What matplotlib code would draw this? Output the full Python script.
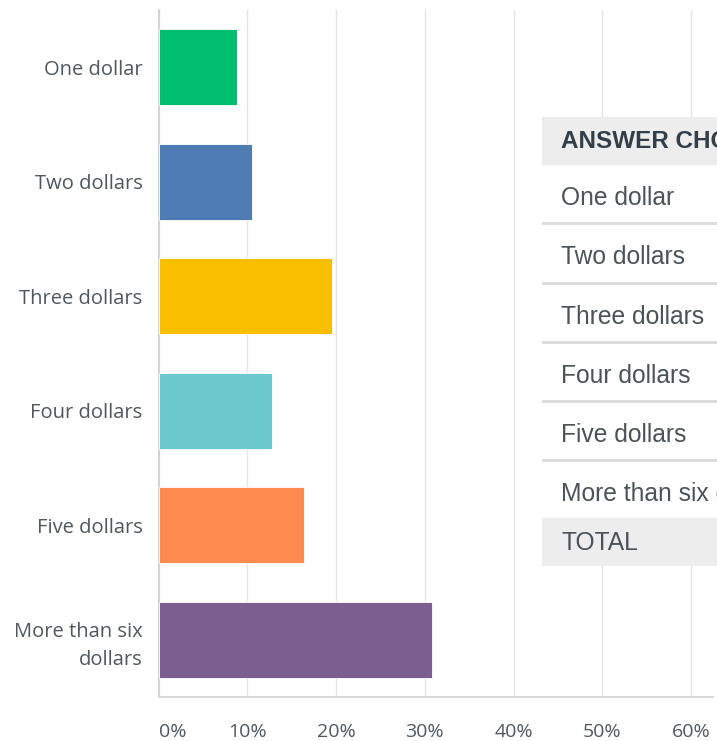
import matplotlib.pyplot as plt
from matplotlib.patches import Rectangle

categories = ['One dollar', 'Two dollars', 'Three dollars', 'Four dollars',
              'Five dollars', 'More than six\ndollars']
percent = [8.8, 10.5, 19.5, 12.8, 16.4, 30.8]
colors = ['#00bf6f', '#507cb6', '#f9be00', '#6bc8cd', '#ff8b4f', '#7d5e90']
xticks = [0, 10, 20, 30, 40, 50, 60]

table_rows = ['One dollar', 'Two dollars', 'Three dollars', 'Four dollars',
              'Five dollars', 'More than six dollars']

W, H = 717, 741
fig = plt.figure(figsize=(W / 100, H / 100), dpi=100)

# main bar axes, placed in pixel units
ax = fig.add_axes([158.5 / W, (H - 697) / H, (713 - 158.5) / W, (697 - 10) / H])
y = list(range(len(categories)))
ax.barh(y, percent, height=0.665, color=colors, edgecolor='white', linewidth=0.6, zorder=3)
ax.set_ylim(len(categories) - 0.5, -0.5)
ax.set_xlim(0, 62.45)
ax.set_yticks(y)
ax.set_yticklabels(categories, family='Open Sans', fontsize=14.5, color='#50575e',
                   linespacing=1.5)
ax.set_xticks(xticks)
ax.set_xticklabels([f'{t}%' for t in xticks], family='Open Sans', fontsize=14, color='#50575e')
ax.get_xticklabels()[0].set_horizontalalignment('left')
ax.tick_params(axis='y', length=0, pad=11.5)
ax.tick_params(axis='x', length=0, pad=19)
ax.grid(axis='x', color='#e4e5e6', linewidth=1, zorder=0)
for s in ['top', 'right']:
    ax.spines[s].set_visible(False)
ax.spines['left'].set_color('#cfd2d4')
ax.spines['bottom'].set_color('#d4d6d8')
ax.spines['left'].set_linewidth(1.3)
ax.spines['bottom'].set_linewidth(1.3)

# the answer table sits on top of the chart and runs off the right edge
tx0, ty0, ty1 = 542, 117, 566
tab = fig.add_axes([tx0 / W, (H - ty1) / H, (W - tx0) / W, (ty1 - ty0) / H])
tab.set_xlim(tx0, W)
tab.set_ylim(ty1, ty0)
tab.axis('off')
tab.add_patch(Rectangle((tx0, ty0), W - tx0, ty1 - ty0, color='white', zorder=0))
tab.add_patch(Rectangle((tx0, 117), W - tx0, 47, color='#ecedec', zorder=1))
tab.add_patch(Rectangle((tx0, 518), W - tx0, 48, color='#ecedec', zorder=1))
for yy in [223, 283, 342, 401, 460]:
    tab.plot([tx0, W], [yy, yy], color='#d9dadb', linewidth=2, zorder=2)

tab.text(561, 142, 'ANSWER CHOICES', family='Liberation Sans', fontsize=17.5,
         fontweight='bold', color='#333e48', va='center', clip_on=True)
row_y = [198, 257, 317, 376, 435, 494]
for label, yy in zip(table_rows, row_y):
    tab.text(561, yy, label, family='Liberation Sans', fontsize=17.7, color='#4b5259',
             va='center', clip_on=True)
tab.text(561, 543, 'TOTAL', family='Liberation Sans', fontsize=17.7, color='#4b5259',
         va='center', clip_on=True)

fig.savefig('out.png', dpi=100)
